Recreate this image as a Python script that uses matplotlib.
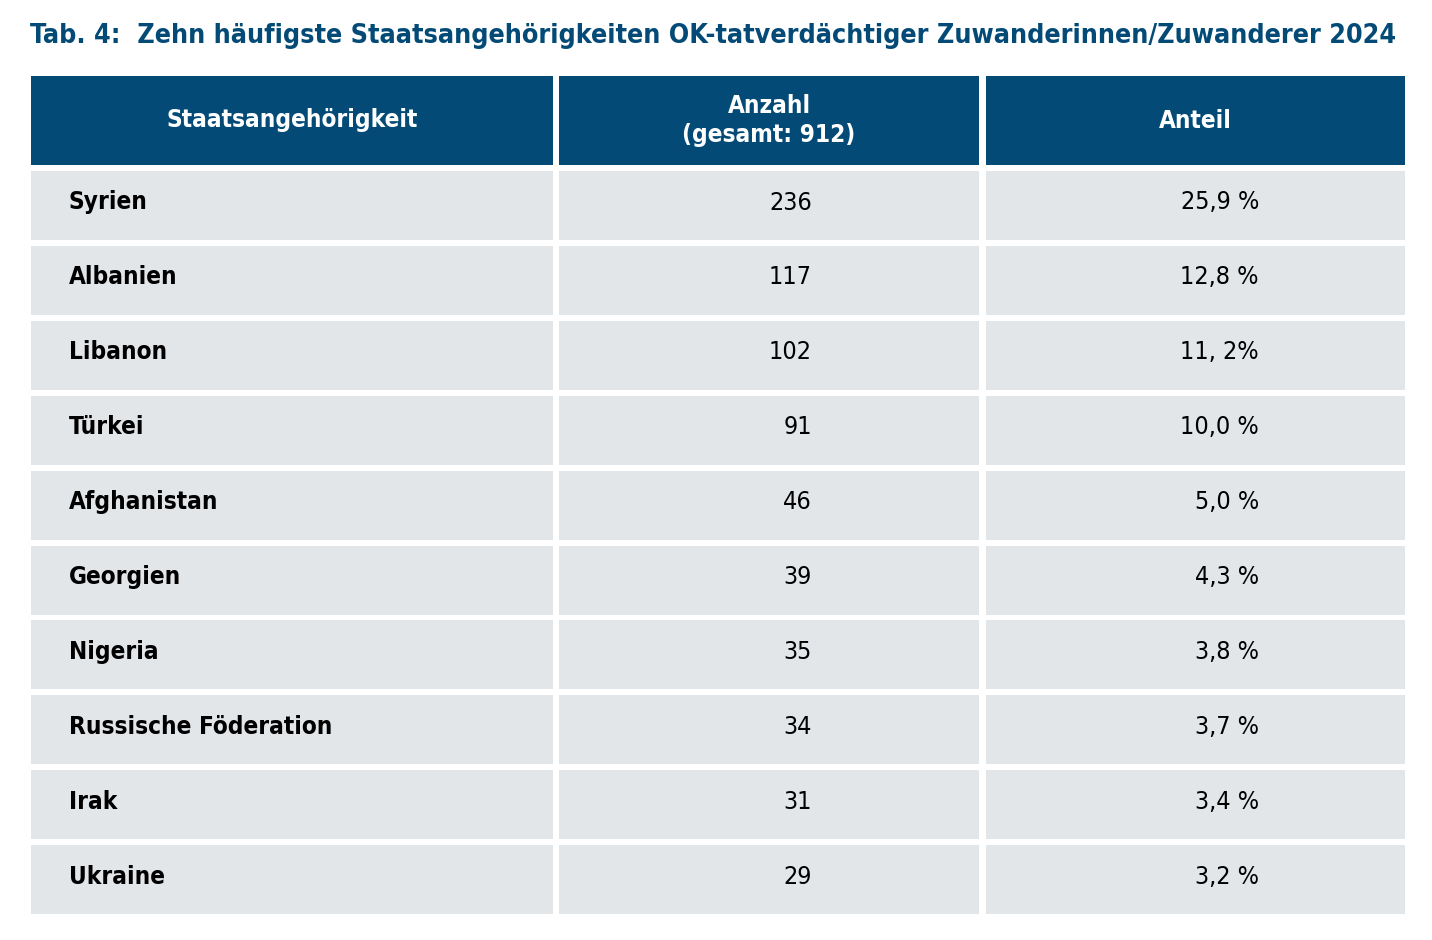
import matplotlib
matplotlib.use("Agg")
import matplotlib.pyplot as plt
from matplotlib.patches import Rectangle

# table content
title = "Tab. 4:  Zehn häufigste Staatsangehörigkeiten OK-tatverdächtiger Zuwanderinnen/Zuwanderer 2024"
headers = ["Staatsangehörigkeit", "Anzahl\n(gesamt: 912)", "Anteil"]
countries = ["Syrien", "Albanien", "Libanon", "Türkei", "Afghanistan",
             "Georgien", "Nigeria", "Russische Föderation", "Irak", "Ukraine"]
counts = [236, 117, 102, 91, 46, 39, 35, 34, 31, 29]
shares = ["25,9 %", "12,8 %", "11, 2%", "10,0 %", "5,0 %",
          "4,3 %", "3,8 %", "3,7 %", "3,4 %", "3,2 %"]

header_color = "#034b76"
cell_color = "#e3e6e9"
txt = dict(family="DejaVu Sans", fontstretch="condensed")

W, H = 1432, 940
fig = plt.figure(figsize=(W / 100, H / 100), dpi=100)
ax = fig.add_axes([0, 0, 1, 1])
ax.set_xlim(0, W)
ax.set_ylim(H, 0)
ax.axis("off")

# column edges (pixels)
cols = [(31, 553), (559, 979), (986, 1405)]
head_top, head_h = 76, 89
row_top, row_h, row_step = 171, 69, 74.9

ax.text(30, 43, title, fontsize=19.3, fontweight="bold", color=header_color,
        va="baseline", ha="left", **txt)

for (x0, x1), h in zip(cols, headers):
    ax.add_patch(Rectangle((x0, head_top), x1 - x0, head_h, color=header_color, lw=0))
    ax.text((x0 + x1) / 2, head_top + head_h / 2, h, color="white", fontsize=17.5,
            fontweight="bold", ha="center", va="center", linespacing=1.3, **txt)

for i, (c, n, s) in enumerate(zip(countries, counts, shares)):
    y = row_top + i * row_step
    for x0, x1 in cols:
        ax.add_patch(Rectangle((x0, y), x1 - x0, row_h, color=cell_color, lw=0))
    yb = y + 38.5
    ax.text(69, yb, c, fontsize=17.5, fontweight="bold",
            ha="left", va="baseline", color="black", **txt)
    ax.text(812, yb, str(n), fontsize=18,
            ha="right", va="baseline", color="black", **txt)
    ax.text(1259, yb, s, fontsize=18,
            ha="right", va="baseline", color="black", **txt)

fig.savefig("out.png", dpi=100, facecolor="white")
